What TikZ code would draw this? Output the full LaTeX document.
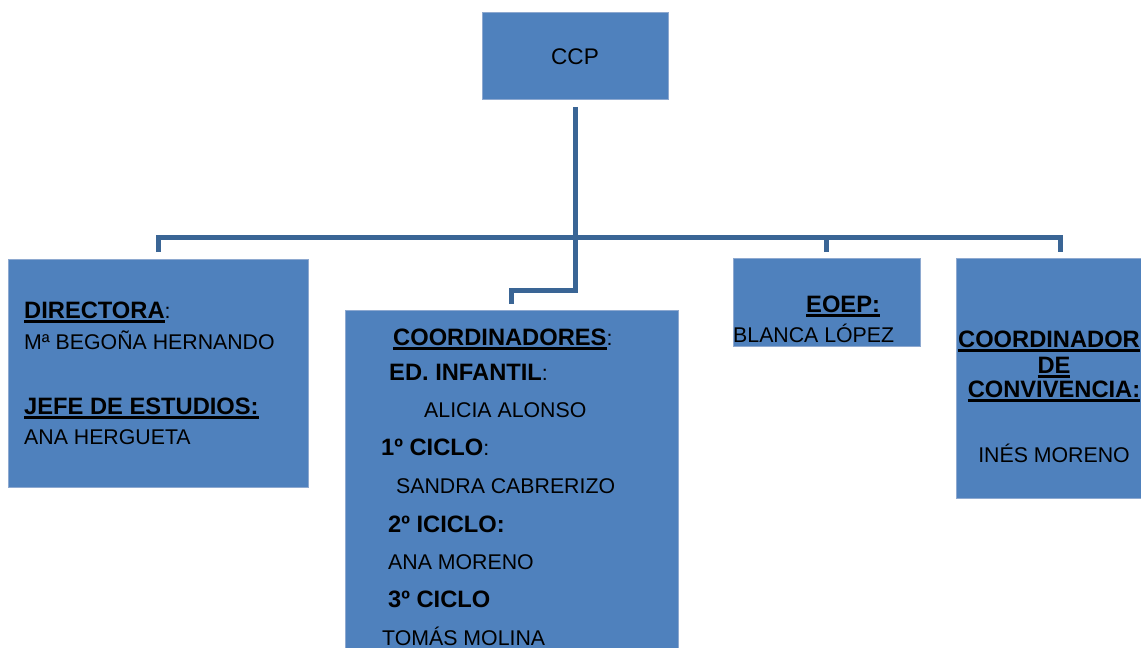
\documentclass[tikz,border=0pt]{standalone}
\usepackage{fontspec}
\setmainfont{Liberation Sans}
\definecolor{boxblue}{HTML}{4F81BD}
\definecolor{boxedge}{HTML}{8EA9D0}
\definecolor{linkblue}{HTML}{3A6595}
\newcommand\nf{\fontsize{21.3}{25}\selectfont\mdseries}
\newcommand\bfz{\fontsize{23.7}{28}\selectfont\bfseries}
\newcommand\ulin[1]{\setbox0\hbox{#1}\rlap{\rule[-5pt]{\wd0}{2.6pt}}\box0}
\tikzset{
  orgbox/.style={draw=boxedge, line width=0.8pt, fill=boxblue, anchor=north west, inner sep=0pt},
  txt/.style={anchor=base west, inner sep=0pt, text=black, font=\nf},
  ctxt/.style={anchor=base, inner sep=0pt, text=black, font=\nf},
  conn/.style={draw=linkblue, line width=5pt, line cap=butt, line join=miter}
}
\begin{document}
\begin{tikzpicture}[x=1pt,y=-1pt]
\useasboundingbox (0,0) rectangle (1141,648);
% boxes
\node[orgbox, minimum width=186pt, minimum height=87pt] (ccp) at (482,12) {};
\node[orgbox, minimum width=300pt, minimum height=228pt] (dir) at (8,259) {};
\node[orgbox, minimum width=333pt, minimum height=350pt] (coord) at (345,310) {};
\node[orgbox, minimum width=187pt, minimum height=88pt] (eoep) at (733,258) {};
\node[orgbox, minimum width=208pt, minimum height=240pt] (conv) at (956,258) {};
% connectors
\coordinate (jn) at (575,290);
\coordinate (bar) at (575,237);
\draw[conn] ([yshift=-7pt]ccp.south) -- (ccp.south |- jn) -| ([yshift=6pt]coord.north);
\draw[conn] ([yshift=7pt]dir.north) |- (bar) -| ([yshift=6pt]conv.north);
\draw[conn] ([yshift=6pt]eoep.north) -- (eoep.north |- bar);
% texts
\node[ctxt, font=\fontsize{22.6}{27}\selectfont] (tccp) at (575,64) {CCP};
\node[txt] (t1) at (24,318) {\bfz\ulin{DIRECTORA}\nf:};
\node[txt] (t2) at (24,349) {Mª BEGOÑA HERNANDO};
\node[txt] (t3) at (24,414) {\bfz\ulin{JEFE DE ESTUDIOS:}};
\node[txt] (t4) at (24,444) {ANA HERGUETA};
\node[txt] (c1) at (393,345) {\bfz\ulin{COORDINADORES}\nf:};
\node[txt] (c2) at (389,380) {\bfz ED. INFANTIL\nf:};
\node[txt] (c3) at (424,417) {ALICIA ALONSO};
\node[txt] (c4) at (381,455) {\bfz 1º CICLO\nf:};
\node[txt] (c5) at (396,493) {SANDRA CABRERIZO};
\node[txt] (c6) at (388,532) {\bfz 2º ICICLO:};
\node[txt] (c7) at (388,569) {ANA MORENO};
\node[txt] (c8) at (388,607) {\bfz 3º CICLO};
\node[txt] (c9) at (382,645) {TOMÁS MOLINA};
\node[txt] (e1) at (806,312) {\bfz\ulin{EOEP:}};
\node[txt] (e2) at (733,342) {BLANCA LÓPEZ};
\node[ctxt] (v1) at (1049,347) {\bfz\ulin{COORDINADOR}};
\node[ctxt] (v2) at (1054,373) {\bfz\ulin{DE}};
\node[ctxt] (v3) at (1054,397) {\bfz\ulin{CONVIVENCIA:}};
\node[ctxt] (v4) at (1054,462) {INÉS MORENO};
\end{tikzpicture}
\end{document}
